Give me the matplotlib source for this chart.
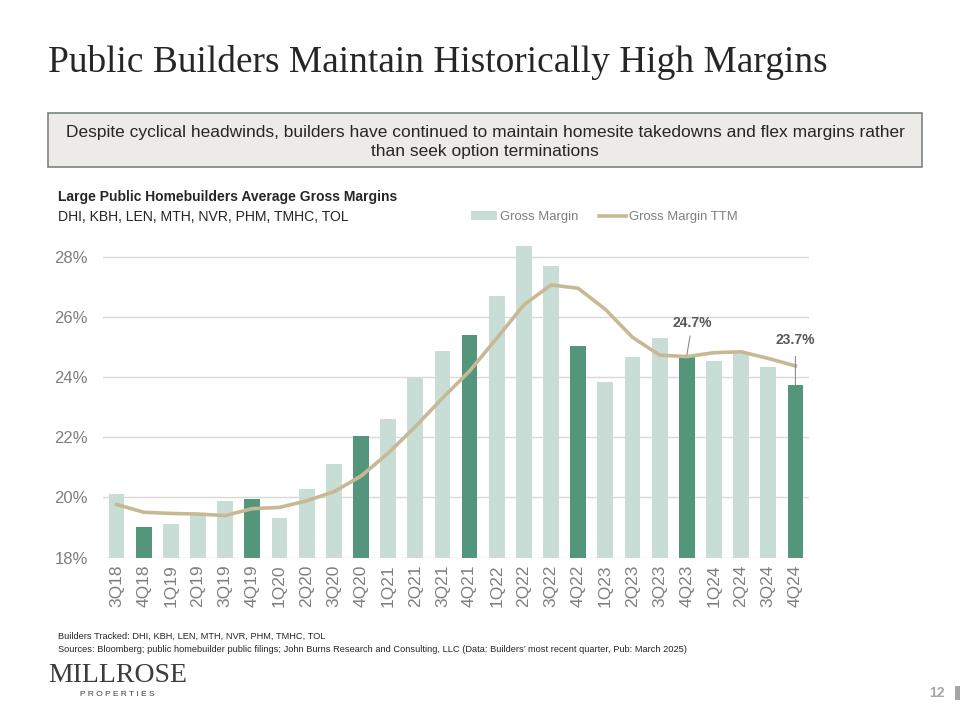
import matplotlib.pyplot as plt
from matplotlib.patches import Rectangle, Patch
from matplotlib.lines import Line2D

# quarters on the x axis
quarters = ['3Q18', '4Q18', '1Q19', '2Q19', '3Q19', '4Q19', '1Q20', '2Q20', '3Q20', '4Q20',
            '1Q21', '2Q21', '3Q21', '4Q21', '1Q22', '2Q22', '3Q22', '4Q22', '1Q23', '2Q23',
            '3Q23', '4Q23', '1Q24', '2Q24', '3Q24', '4Q24']

# quarterly gross margin (%)
gross_margin = [20.1, 19.03, 19.13, 19.5, 19.88, 19.94, 19.32, 20.29, 21.12, 22.05,
                22.61, 23.98, 24.87, 25.41, 26.7, 28.37, 27.7, 25.03, 23.85, 24.66,
                25.29, 24.73, 24.53, 24.83, 24.33, 23.74]

# trailing twelve month gross margin (%)
gross_margin_ttm = [19.77, 19.51, 19.47, 19.45, 19.4, 19.63, 19.67, 19.89, 20.19, 20.71,
                    21.47, 22.35, 23.3, 24.2, 25.29, 26.4, 27.06, 26.95, 26.25, 25.32,
                    24.73, 24.68, 24.81, 24.84, 24.62, 24.37]

yticks = [18, 20, 22, 24, 26, 28]

LIGHT = '#C9DDD7'
DARK = '#54967B'
TAN = '#C8B995'
GRAY = '#7F7F7F'
TEXT = '#262626'

plt.rcParams['font.family'] = ['Liberation Sans', 'DejaVu Sans']

fig = plt.figure(figsize=(9.6, 7.2), dpi=100)
fig.patch.set_facecolor('white')


def fx(px):
    return px / 960


def fy(py):
    return 1 - py / 720


# slide title
fig.text(fx(48), fy(62), 'Public Builders Maintain Historically High Margins',
         family='Liberation Serif', fontsize=26.9, color='#262626', va='center', ha='left')

# call-out box
fig.patches.append(Rectangle((fx(48), fy(167)), fx(922) - fx(48), fy(113) - fy(167),
                             transform=fig.transFigure, facecolor='#ECEBE8',
                             edgecolor='#7A8580', linewidth=1.2))
fig.text(fx(485), fy(142),
         'Despite cyclical headwinds, builders have continued to maintain homesite takedowns and flex margins rather\nthan seek option terminations',
         ha='center', va='center', fontsize=12.5, color=TEXT, linespacing=1.35)

# chart header
fig.text(fx(58), fy(197), 'Large Public Homebuilders Average Gross Margins', fontsize=10,
         fontweight='bold', color=TEXT, va='center')
fig.text(fx(58), fy(217), 'DHI, KBH, LEN, MTH, NVR, PHM, TMHC, TOL', fontsize=10.1,
         color=TEXT, va='center')

# main chart
ymax = 28.6
ax = fig.add_axes([fx(103), fy(557.7), fx(809) - fx(103), (557.7 - 238.6) / 720])
x = list(range(len(quarters)))
colors = [DARK if q.startswith('4Q') else LIGHT for q in quarters]
ax.bar(x, [v - 18 for v in gross_margin], bottom=18, width=0.58, color=colors, zorder=2)
ax.plot(x, gross_margin_ttm, color=TAN, linewidth=2.6, zorder=3, solid_joinstyle='round')

ax.set_xlim(-0.5, len(quarters) - 0.5)
ax.set_ylim(18, ymax)
ax.set_yticks(yticks)
ax.set_yticklabels([f'{t}%' for t in yticks])
ax.set_xticks(x)
ax.set_xticklabels(quarters, rotation=90)
ax.tick_params(axis='y', length=0, pad=11, labelsize=12, labelcolor=GRAY)
ax.tick_params(axis='x', length=0, pad=5, labelsize=12.5, labelcolor=GRAY)
ax.grid(axis='y', color='#D9D9D9', linewidth=1, zorder=0)
ax.set_axisbelow(True)
for s in ax.spines.values():
    s.set_visible(False)
ax.set_facecolor('none')

# callouts on 4Q23 and 4Q24
i23 = quarters.index('4Q23')
ax.annotate(f'{gross_margin[i23]:.1f}%', xy=(i23, gross_margin[i23]),
            xytext=(i23 + 0.2, gross_margin[i23] + 1.05), ha='center', va='center',
            fontsize=10, fontweight='bold', color='#595959',
            arrowprops=dict(arrowstyle='-', color='#8C8C8C', lw=0.8, shrinkA=2, shrinkB=0))
i24 = quarters.index('4Q24')
ax.annotate(f'{gross_margin[i24]:.1f}%', xy=(i24, gross_margin[i24]),
            xytext=(i24, gross_margin[i24] + 1.5), ha='center', va='center',
            fontsize=10, fontweight='bold', color='#595959',
            arrowprops=dict(arrowstyle='-', color='#8C8C8C', lw=0.8, shrinkA=5, shrinkB=0))

# legend
handles = [Patch(facecolor=LIGHT, edgecolor='none'), Line2D([0], [0], color=TAN, lw=2.6)]
fig.legend(handles, ['Gross Margin', 'Gross Margin TTM'], loc='center left',
           bbox_to_anchor=(fx(459), fy(217)), ncol=2, frameon=False, fontsize=9.4,
           labelcolor=GRAY, handlelength=2.0, handletextpad=0.25, columnspacing=1.6,
           handleheight=0.6)

# footnotes
fig.text(fx(58), fy(636), 'Builders Tracked: DHI, KBH, LEN, MTH, NVR, PHM, TMHC, TOL',
         fontsize=6.7, color=TEXT, va='center')
fig.text(fx(58), fy(649),
         'Sources: Bloomberg; public homebuilder public filings; John Burns Research and Consulting, LLC (Data: Builders\u2019 most recent quarter, Pub: March 2025)',
         fontsize=6.7, color=TEXT, va='center')

# logo
fig.text(fx(48), fy(676), 'MILLROSE', family='Liberation Serif', fontsize=20,
         color='#3A3D38', va='center')
fig.text(fx(80), fy(695), 'P R O P E R T I E S', fontsize=6, color='#3A3D38', va='center')

# page number
fig.text(fx(944), fy(693), '12', fontsize=10, fontweight='bold', color='#A6A6A6',
         va='center', ha='right')
fig.patches.append(Rectangle((fx(955), fy(700)), fx(6), fy(686) - fy(700),
                             transform=fig.transFigure, facecolor='#A6A6A6', edgecolor='none'))

fig.savefig('out.png', dpi=100)
